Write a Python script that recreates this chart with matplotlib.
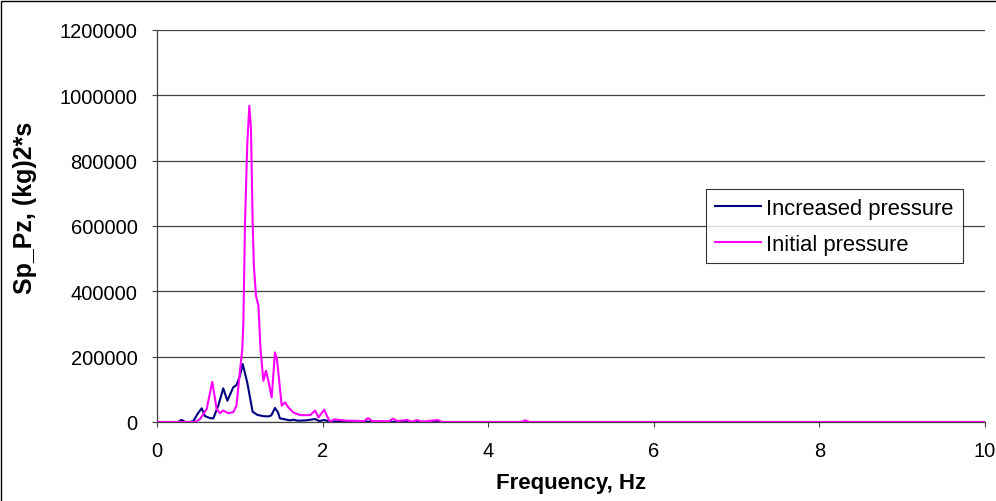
import matplotlib
matplotlib.use("Agg")
import matplotlib.pyplot as plt
from matplotlib.patches import Rectangle

plt.rcParams['font.family'] = ['Liberation Sans', 'DejaVu Sans']

# spectra
freq_increased = [0.0, 0.26, 0.29, 0.31, 0.34, 0.40, 0.44, 0.49, 0.54, 0.58, 0.64, 0.68,
                  0.74, 0.80, 0.85, 0.92, 0.96, 1.00, 1.035, 1.09, 1.155, 1.21, 1.28,
                  1.345, 1.38, 1.425, 1.46, 1.485, 1.55, 1.60, 1.65, 1.70, 1.80, 1.91,
                  1.96, 2.02, 2.10, 2.30, 2.60, 3.00, 10.0]
sp_increased = [0, 0, 6000, 5000, 0, 0, 3000, 25000, 42000, 18000, 12000, 11000,
                50000, 103000, 65000, 106000, 113000, 140000, 177500, 121000, 31500,
                22000, 18000, 17000, 20000, 43000, 30000, 11000, 8000, 5000, 7000,
                4000, 5000, 9000, 3000, 6000, 1000, 2000, 1000, 0, 0]

freq_initial = [0.0, 0.46, 0.52, 0.60, 0.668, 0.72, 0.76, 0.80, 0.86, 0.92, 0.96,
                1.00, 1.03, 1.043, 1.063, 1.09, 1.115, 1.135, 1.155, 1.17, 1.195,
                1.225, 1.25, 1.285, 1.316, 1.345, 1.385, 1.425, 1.45, 1.506, 1.546,
                1.586, 1.646, 1.73, 1.85, 1.91, 1.95, 2.02, 2.05, 2.09, 2.14, 2.30,
                2.50, 2.55, 2.60, 2.80, 2.85, 2.90, 3.02, 3.08, 3.14, 3.20, 3.39,
                3.45, 4.40, 4.45, 4.50, 10.0]
sp_initial = [0, 0, 9000, 40000, 123000, 40000, 27000, 35000, 27000, 30000, 50000,
              152000, 223000, 305000, 611000, 850000, 968000, 897000, 611000,
              478000, 387000, 356000, 223000, 126000, 157000, 126000, 75000, 213000,
              190000, 50000, 60000, 45000, 29000, 21000, 21000, 35000, 14000, 38000,
              20000, 0, 8000, 4000, 3000, 12000, 3000, 2000, 10000, 3000, 6000, 1000,
              6000, 1000, 6000, 0, 0, 5000, 0, 0]

y_ticks = [0, 200000, 400000, 600000, 800000, 1000000, 1200000]
x_ticks = [0, 2, 4, 6, 8, 10]

fig = plt.figure(figsize=(9.96, 5.02), dpi=100)
ax = fig.add_axes([157 / 996, 1 - 423 / 502, 828 / 996, 392 / 502])

ax.plot(freq_increased, sp_increased, color='#000080', lw=1.5, label='Increased pressure', zorder=3)
ax.plot(freq_initial, sp_initial, color='#FF00FF', lw=1.5, label='Initial pressure', zorder=3)

ax.set_xlim(0, 10)
ax.set_ylim(0, 1200000)
ax.set_xticks(x_ticks)
ax.set_yticks(y_ticks)
ax.set_xticklabels([str(t) for t in x_ticks])
ax.set_yticklabels([str(t) for t in y_ticks])
ax.yaxis.grid(True, color='#404040', lw=0.9)
ax.set_axisbelow(True)
ax.tick_params(labelsize=14.5, direction='out', length=3.6, width=0.8, color='#404040')
ax.tick_params(axis='x', pad=10)
ax.tick_params(axis='y', pad=10.5)
for s in ['top', 'right']:
    ax.spines[s].set_visible(False)
for s in ['left', 'bottom']:
    ax.spines[s].set_color('#404040')
    ax.spines[s].set_linewidth(0.9)

ax.set_xlabel('Frequency, Hz', fontsize=16, fontweight='bold', labelpad=9)
ax.set_ylabel('Sp_Pz, (kg)2*s', fontsize=18, fontweight='bold')
ax.yaxis.set_label_coords(-0.145, 0.55)

leg = ax.legend(loc='upper left', bbox_to_anchor=((706 - 157) / 828, (423 - 190) / 392),
                fontsize=15.8, frameon=True, fancybox=False, handlelength=2.1,
                borderpad=0.4, labelspacing=0.68, handletextpad=0.25, borderaxespad=0)
leg.get_frame().set_edgecolor('black')
leg.get_frame().set_linewidth(0.8)

# outer chart border (only left and top edges are visible in the picture)
fig.patches.append(Rectangle((1 / 996, -0.1), 1.2, 1.1 - 1.5 / 502, transform=fig.transFigure,
                             fill=False, edgecolor='black', lw=1.0))

fig.savefig('out.png', dpi=100)
